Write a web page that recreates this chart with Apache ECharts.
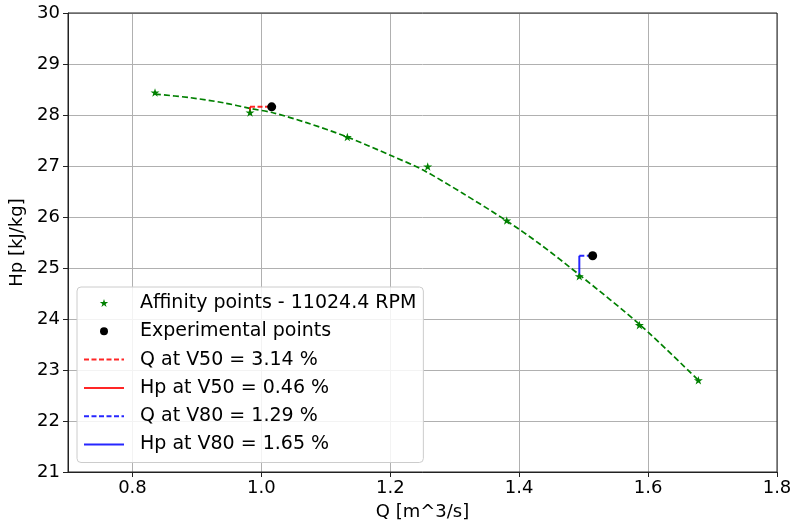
<!DOCTYPE html>
<html><head><meta charset="utf-8">
<script src="https://cdn.jsdelivr.net/npm/echarts@6/dist/echarts.min.js"></script>
<style>html,body{margin:0;padding:0;background:#fff}#c{width:795px;height:526px}</style>
</head><body><div id="c"></div>
<script>
// ---- data ----
const affinityQ  = [0.835, 0.9824, 1.1334, 1.2581, 1.3807, 1.4933, 1.5865, 1.678];
const affinityHp = [28.44, 28.05, 27.57, 26.99, 25.93, 24.84, 23.88, 22.80];
const expQ  = [1.016, 1.514];
const expHp = [28.16, 25.24];
const fitQ  = [0.835, 0.889, 0.941, 0.982, 1.019, 1.070, 1.133, 1.202, 1.251, 1.313, 1.380, 1.432, 1.494, 1.588, 1.678];
const fitHp = [28.41, 28.34, 28.24, 28.13, 28.04, 27.85, 27.57, 27.20, 26.92, 26.46, 25.93, 25.47, 24.86, 23.88, 22.80];
const xTicks = [0.8, 1.0, 1.2, 1.4, 1.6, 1.8];
const legendNames = [
  'Affinity points - 11024.4 RPM',
  'Experimental points',
  'Q at V50 = 3.14 %',
  'Hp at V50 = 0.46 %',
  'Q at V80 = 1.29 %',
  'Hp at V80 = 1.65 %'
];
// index of affinity point paired with each experimental point
const pairIdx = [1, 5];

const FONT = 'DejaVu Sans';
const STAR = 'path://M50,0 L61.2,34.5 L97.6,34.5 L68.2,55.9 L79.4,90.5 L50,69.1 L20.6,90.5 L31.8,55.9 L2.4,34.5 L38.8,34.5 Z';

const zip = (a, b) => a.map((v, i) => [v, b[i]]);

function qLine(k) { // horizontal: Q difference
  const i = pairIdx[k];
  return [[affinityQ[i], expHp[k]], [expQ[k], expHp[k]]];
}
function hLine(k) { // vertical: Hp difference
  const i = pairIdx[k];
  return [[affinityQ[i], expHp[k]], [affinityQ[i], affinityHp[i]]];
}

const chart = echarts.init(document.getElementById('c'), null, {renderer: 'canvas'});
const lineBase = (name, color, type, data) => ({
  name, type: 'line', data, symbol: 'none', showSymbol: false, z: 4,
  lineStyle: {color, width: 2, type, opacity: 0.85},
  itemStyle: {color}, animation: false
});

chart.setOption({
  animation: false,
  textStyle: {fontFamily: FONT},
  grid: {left: 68, right: 18, top: 13, bottom: 52, show: true, borderColor: '#222', borderWidth: 1, z: 3},
  xAxis: {
    type: 'value', min: 0.7, max: 1.8, splitNumber: 5,
    name: 'Q [m^3/s]', nameLocation: 'middle', nameGap: 31,
    nameTextStyle: {fontSize: 18, color: '#000', fontFamily: FONT},
    axisLine: {show: true, lineStyle: {color: '#222', width: 1}},
    axisTick: {show: true, length: 5, lineStyle: {color: '#222'}, customValues: xTicks},
    axisLabel: {fontSize: 18, color: '#000', margin: 7, fontFamily: FONT, customValues: xTicks,
      formatter: v => Number(v).toFixed(1)},
    splitLine: {show: true, lineStyle: {color: '#b0b0b0', width: 1}}
  },
  yAxis: {
    type: 'value', min: 21, max: 30, interval: 1,
    name: 'Hp [kJ/kg]', nameLocation: 'middle', nameGap: 39, nameRotate: 90,
    nameTextStyle: {fontSize: 18, color: '#000', fontFamily: FONT},
    axisLine: {show: true, lineStyle: {color: '#222', width: 1}},
    axisTick: {show: true, length: 5, lineStyle: {color: '#222'}},
    axisLabel: {fontSize: 18, color: '#000', margin: 8, fontFamily: FONT,
      formatter: v => String(Math.round(v))},
    splitLine: {show: true, lineStyle: {color: '#b0b0b0', width: 1}}
  },
  legend: {
    data: legendNames.map((n, i) => i < 2 ? {name: n} : {name: n, itemStyle: {opacity: 0, color: 'rgba(0,0,0,0)'}}),
    orient: 'vertical', left: 77, top: 287,
    itemWidth: 40, itemHeight: 8, itemGap: 8.3,
    padding: [6, 7, 8, 6],
    backgroundColor: 'rgba(255,255,255,0.85)',
    borderColor: '#cccccc', borderWidth: 1, borderRadius: 4,
    textStyle: {fontSize: 19, color: '#000', fontFamily: FONT, lineHeight: 20, padding: [0, 0, 0, 11]},
    selectedMode: false, z: 10
  },
  series: [
    {
      name: 'fit', type: 'line', data: zip(fitQ, fitHp), symbol: 'none',
      smooth: 0.3, z: 3,
      lineStyle: {color: '#008000', width: 1.7, type: [6, 3]}
    },
    {
      name: legendNames[0], type: 'scatter', data: zip(affinityQ, affinityHp),
      symbol: STAR, symbolSize: 9, symbolKeepAspect: true, z: 4,
      itemStyle: {color: '#008000', opacity: 1}
    },
    {
      name: legendNames[1], type: 'scatter', data: zip(expQ, expHp),
      symbol: 'circle', symbolSize: 9, z: 5,
      itemStyle: {color: '#000', opacity: 1}
    },
    lineBase(legendNames[2], '#ff0000', [5, 2.5], qLine(0)),
    lineBase(legendNames[3], '#ff0000', 'solid', hLine(0)),
    lineBase(legendNames[4], '#0000ff', [5, 2.5], qLine(1)),
    lineBase(legendNames[5], '#0000ff', 'solid', hLine(1))
  ]
});
</script></body></html>
